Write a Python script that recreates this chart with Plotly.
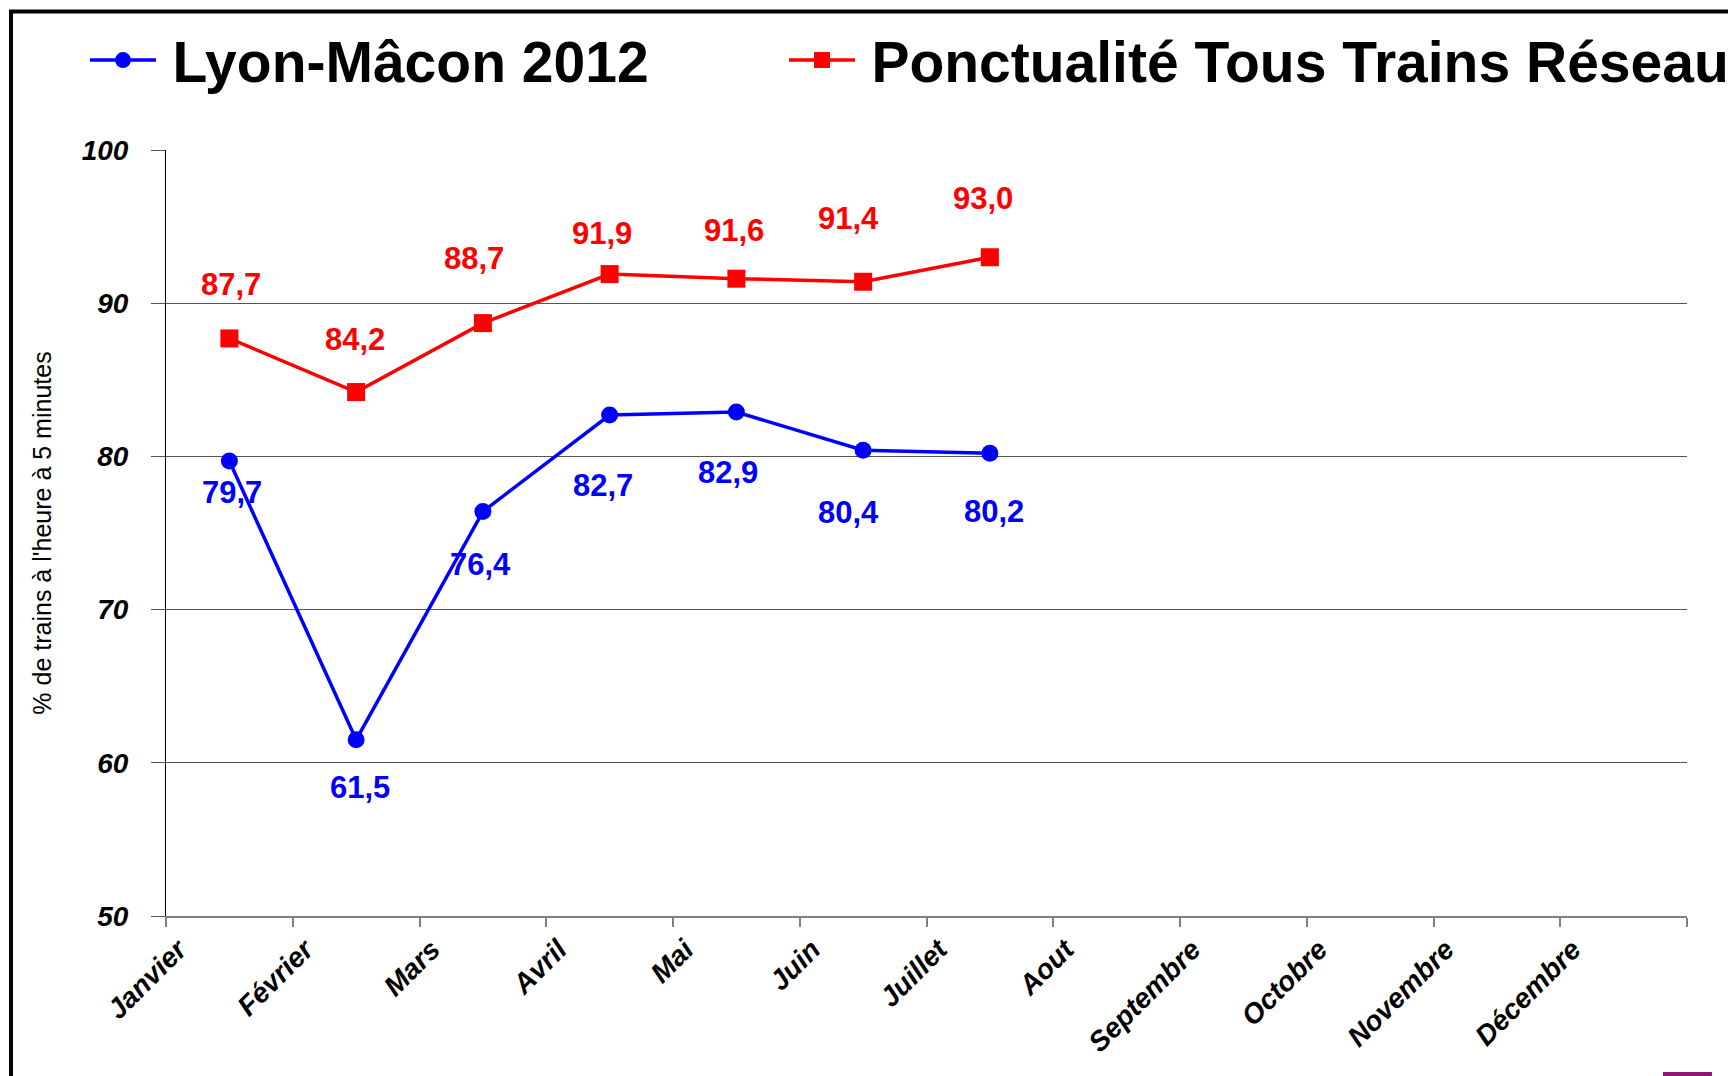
import plotly.graph_objects as go

# ---- data ----
months = ["Janvier", "Février", "Mars", "Avril", "Mai", "Juin", "Juillet",
          "Aout", "Septembre", "Octobre", "Novembre", "Décembre"]
lyon_macon = [79.7, 61.5, 76.4, 82.7, 82.9, 80.4, 80.2]
reseau = [87.7, 84.2, 88.7, 91.9, 91.6, 91.4, 93.0]
y_ticks = [50, 60, 70, 80, 90, 100]

# label offsets in pixels (style only)
lyon_dx = [3, 4, -2, -7, -8, -15, 4]
lyon_dy = [-31, -48, -53, -70, -61, -62, -58]
res_dx = [2, -1, -9, -8, -2, -15, -7]
res_dy = [54, 53, 65, 41, 48, 63, 59]

BLUE = "#0000FF"
RED = "#FF0000"
FONT = "Liberation Sans, Arial, sans-serif"

W, H = 1728, 1068  # page body has an 8px margin

fig = go.Figure()
fig.add_trace(go.Scatter(
    x=months[:len(lyon_macon)], y=lyon_macon, name="\u2009Lyon-Mâcon 2012",
    mode="lines+markers", line=dict(color=BLUE, width=3.5),
    marker=dict(symbol="circle", size=17, color=BLUE), legend="legend"))
fig.add_trace(go.Scatter(
    x=months[:len(reseau)], y=reseau, name="\u2009Ponctualité Tous Trains Réseau",
    mode="lines+markers", line=dict(color=RED, width=3.5),
    marker=dict(symbol="square", size=18, color=RED), legend="legend2"))

def fmt(v):
    return f"{v:.1f}".replace(".", ",")

for m, v, dx, dy in zip(months, lyon_macon, lyon_dx, lyon_dy):
    fig.add_annotation(x=m, y=v, text=fmt(v), showarrow=False, xshift=dx, yshift=dy,
                       font=dict(family=FONT, size=31, color=BLUE, weight="bold"))
for m, v, dx, dy in zip(months, reseau, res_dx, res_dy):
    fig.add_annotation(x=m, y=v, text=fmt(v), showarrow=False, xshift=dx, yshift=dy,
                       font=dict(family=FONT, size=31, color=RED, weight="bold"))

# outer frame
fig.add_shape(type="rect", xref="paper", yref="paper",
              x0=-0.1019, x1=1.0302, y0=-0.25, y1=1.1808,
              line=dict(color="black", width=4), layer="below")
# purple logo fragment bottom right
fig.add_shape(type="rect", xref="paper", yref="paper",
              x0=0.9842, x1=1.0164, y0=-0.214, y1=-0.2037,
              line=dict(width=0), fillcolor="#8E1870")

legend_common = dict(
    orientation="h", xref="container", yref="container",
    yanchor="middle", y=0.9508, xanchor="left",
    font=dict(family=FONT, size=57, color="black", weight="bold"),
    bgcolor="rgba(0,0,0,0)", borderwidth=0, itemwidth=66)

fig.update_layout(
    width=W, height=H,
    margin=dict(l=158, r=49, t=142, b=160, autoexpand=False),
    paper_bgcolor="white", plot_bgcolor="white",
    showlegend=True,
    legend=dict(x=77 / W, **legend_common),
    legend2=dict(x=776 / W, **legend_common),
    xaxis=dict(
        type="category", categoryorder="array", categoryarray=months,
        range=[-0.5, 11.5], tickson="boundaries",
        ticks="outside", ticklen=9, tickwidth=2, tickcolor="#808080",
        showline=True, linecolor="#808080", linewidth=2,
        showgrid=False, zeroline=False, tickangle=-45,
        ticklabelshift=-51, ticklabelstandoff=4,
        tickfont=dict(family=FONT, size=28, color="black", weight="bold", style="italic")),
    yaxis=dict(
        range=[50, 100], tickvals=y_ticks,
        ticks="outside", ticklen=14, tickcolor="#555555", tickwidth=1,
        showline=True, linecolor="black", linewidth=1,
        showgrid=True, gridcolor="#555555", gridwidth=1, zeroline=False,
        ticklabelstandoff=17,
        tickfont=dict(family=FONT, size=28, color="black", weight="bold", style="italic"),
        title=dict(text="% de trains à l'heure à 5 minutes", standoff=22,
                   font=dict(family=FONT, size=25, color="black"))),
)

fig.write_html("out.html")
